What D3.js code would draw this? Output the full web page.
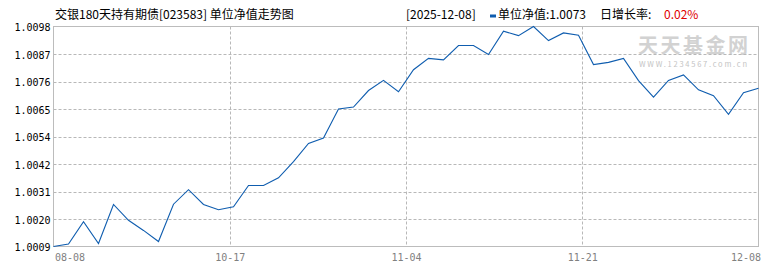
<!DOCTYPE html>
<html>
<head>
<meta charset="utf-8">
<script src="https://cdn.jsdelivr.net/npm/d3@7"></script>
<style>
  body { margin: 0; background: #fff; }
  svg { display: block; }
  text { font-family: "Noto Sans CJK SC", sans-serif; }
  .tick text { font-family: "DejaVu Sans Mono", "Liberation Mono", monospace; }
</style>
</head>
<body>
<div id="chart"></div>
<script>
const fundTitle = "交银180天持有期债[023583] 单位净值走势图";
const latestDate = "2025-12-08";
const dailyGrowth = "0.02%";

// x labels shown under the plot, evenly spread
const xLabels = ["08-08", "10-17", "11-04", "11-21", "12-08"];
// y tick labels, evenly spread from min to max
const yTickLabels = ["1.0009", "1.0020", "1.0031", "1.0042", "1.0054", "1.0065", "1.0076", "1.0087", "1.0098"];

// unit NAV, one value per published day
const navValues = [
  1.0009, 1.0010, 1.0019, 1.00102, 1.0026, 1.00196, 1.00155, 1.0011,
  1.00261, 1.0032, 1.0026, 1.00239, 1.00251, 1.00337, 1.00337, 1.00368,
  1.00433, 1.00507, 1.00529, 1.00646, 1.00654, 1.00721, 1.00762, 1.00716,
  1.00805, 1.00851, 1.00845, 1.00903, 1.00903, 1.00867, 1.00961, 1.00943,
  1.0098, 1.00923, 1.00954, 1.00945, 1.00826, 1.00835, 1.00851, 1.00761,
  1.00694, 1.00762, 1.00784, 1.00724, 1.007, 1.00625, 1.00712, 1.0073
];

const width = 770;
const height = 270;
const plotLeft = 53.5, plotRight = 758.5, plotTop = 26.5, plotBottom = 246.5;
const lineColor = "#0f5daf";
const gridColor = "#b8b8b8";

const svg = d3.select("#chart").append("svg").attr("width", width).attr("height", height);

const x = d3.scaleLinear().domain([0, navValues.length - 1]).range([plotLeft, plotRight]);
const y = d3.scaleLinear().domain(d3.extent(navValues)).range([plotBottom, plotTop]);
const xLab = d3.scalePoint().domain(xLabels).range([plotLeft, plotRight]);
const yLab = d3.scalePoint().domain(yTickLabels).range([plotBottom, plotTop]);

// watermark
svg.append("text")
  .attr("x", 638).attr("y", 52.5)
  .attr("font-size", 20).attr("font-weight", "bold")
  .attr("fill", "#d2d2d2")
  .attr("textLength", 110)
  .text("天天基金网");
svg.append("text")
  .attr("x", 639).attr("y", 67)
  .attr("font-size", 7.5)
  .attr("font-family", "DejaVu Sans Mono, monospace")
  .attr("textLength", 108)
  .attr("fill", "#c4c4c4")
  .text("WWW.1234567.com.cn");

// horizontal grid
svg.append("g")
  .selectAll("line")
  .data(yTickLabels.slice(1, -1))
  .join("line")
  .attr("x1", plotLeft).attr("x2", plotRight)
  .attr("y1", (d) => Math.round(yLab(d)) + 0.5)
  .attr("y2", (d) => Math.round(yLab(d)) + 0.5)
  .attr("stroke", gridColor)
  .attr("stroke-dasharray", "3,2");

// vertical grid
svg.append("g")
  .selectAll("line")
  .data(xLabels.slice(1, -1))
  .join("line")
  .attr("x1", (d) => Math.round(xLab(d)) + 0.5)
  .attr("x2", (d) => Math.round(xLab(d)) + 0.5)
  .attr("y1", plotTop).attr("y2", plotBottom)
  .attr("stroke", gridColor)
  .attr("stroke-dasharray", "3,2");

// frame
svg.append("rect")
  .attr("x", plotLeft).attr("y", plotTop)
  .attr("width", plotRight - plotLeft).attr("height", plotBottom - plotTop)
  .attr("fill", "none")
  .attr("stroke", "#bcbcbc");

// y axis labels
const yAxis = svg.append("g")
  .attr("transform", `translate(${plotLeft},1)`)
  .call(d3.axisLeft(yLab).tickSize(0).tickPadding(3));
yAxis.select(".domain").remove();
yAxis.selectAll("text").attr("font-size", 10).attr("fill", "#000");

// x axis labels
const xAxis = svg.append("g")
  .attr("transform", `translate(0,${plotBottom})`)
  .call(d3.axisBottom(xLab).tickSize(0).tickPadding(7));
xAxis.select(".domain").remove();
xAxis.selectAll("text")
  .attr("font-size", 10)
  .attr("fill", "#808080")
  .attr("text-anchor", (d, i) => (i === 0 ? "start" : i === xLabels.length - 1 ? "end" : "middle"))
  .attr("dx", (d, i) => (i === 0 ? 1 : i === xLabels.length - 1 ? 2 : 0));

// NAV line
svg.append("path")
  .datum(navValues)
  .attr("fill", "none")
  .attr("stroke", lineColor)
  .attr("stroke-width", 1.1)
  .attr("d", d3.line().x((d, i) => x(i)).y((d) => y(d)));

// title
svg.append("text")
  .attr("x", 55).attr("y", 19)
  .attr("font-size", 12)
  .attr("fill", "#000")
  .text(fundTitle);

// header info
const header = svg.append("g").attr("font-size", 12).attr("fill", "#000");
header.append("text").attr("x", 406).attr("y", 19).text(`[${latestDate}]`);
header.append("rect")
  .attr("x", 490).attr("y", 14.5).attr("width", 6).attr("height", 3)
  .attr("fill", lineColor);
header.append("text").attr("x", 498).attr("y", 19)
  .text(`单位净值:${navValues[navValues.length - 1].toFixed(4)}`);
header.append("text").attr("x", 600).attr("y", 19).text("日增长率:");
header.append("text").attr("x", 664).attr("y", 19).attr("fill", "#e00000").text(dailyGrowth);
</script>
</body>
</html>
